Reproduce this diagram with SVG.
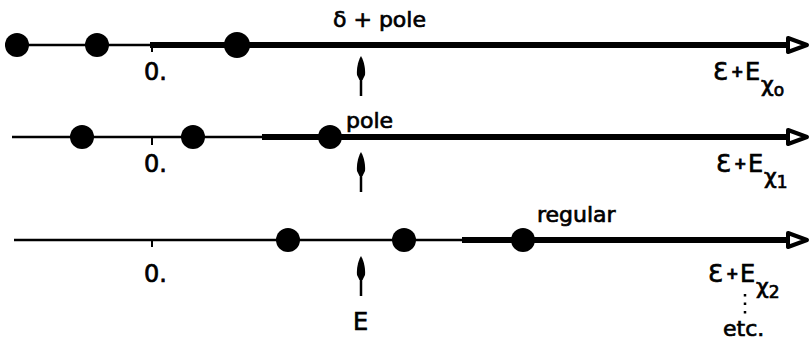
<svg xmlns="http://www.w3.org/2000/svg" width="812" height="343" viewBox="0 0 812 343">
<style>
.thin{stroke:#000;stroke-width:2.5;fill:none}
.thick{stroke:#000;stroke-width:6;fill:none}
.dot{fill:#000}
.t{font-family:"DejaVu Sans","Liberation Sans",sans-serif;fill:#000;font-size:22px;stroke:#000;stroke-width:0.7}
.big{font-family:"DejaVu Sans","Liberation Sans",sans-serif;fill:#000;font-size:24px;stroke:#000;stroke-width:0.7}
.pl{font-size:15px;font-weight:bold}
.chi{font-size:22px}
.si{font-size:17px}
.head{fill:#fff;stroke:#000;stroke-width:4;stroke-linejoin:round}
.tick{stroke:#000;stroke-width:2}
</style>
<defs>
<g id="uparrow">
<path d="M0,0 C-3.5,6 -4.5,14 -4,19 L-1.5,24 L1.5,24 L4,19 C4.5,14 3.5,6 0,0 Z" fill="#000"/>
<line x1="0" y1="22" x2="0" y2="40" stroke="#000" stroke-width="2.5"/>
</g>
</defs>
<g id="connectors">
<line class="thin" x1="5" y1="45" x2="152" y2="45"/>
<line class="thick" x1="150" y1="45" x2="790" y2="45"/>
<line class="tick" x1="152" y1="45" x2="152" y2="52"/>
<polygon class="head" points="788,38 807,45 788,52"/>
<line class="thin" x1="12" y1="137" x2="264" y2="137"/>
<line class="thick" x1="262" y1="137" x2="790" y2="137"/>
<line class="tick" x1="152" y1="137" x2="152" y2="145"/>
<polygon class="head" points="788,130 807,137 788,144"/>
<line class="thin" x1="14" y1="240" x2="464" y2="240"/>
<line class="thick" x1="462" y1="240" x2="790" y2="240"/>
<line class="tick" x1="152" y1="240" x2="152" y2="247"/>
<polygon class="head" points="788,233 807,240 788,247"/>
<use href="#uparrow" x="361" y="56"/>
<use href="#uparrow" x="361" y="152"/>
<use href="#uparrow" x="361" y="256"/>
<line x1="745" y1="294" x2="745" y2="318" stroke="#000" stroke-width="2.5" stroke-dasharray="2.5,6"/>
</g>
<g id="row1-nodes">
<circle id="n1a" class="dot" cx="17" cy="45" r="12"/>
<circle id="n1b" class="dot" cx="97" cy="45" r="12"/>
<circle id="n1c" class="dot" cx="237" cy="45" r="13"/>
</g>
<g id="row2-nodes">
<circle id="n2a" class="dot" cx="82" cy="137" r="12"/>
<circle id="n2b" class="dot" cx="193" cy="137" r="12"/>
<circle id="n2c" class="dot" cx="330" cy="137" r="12"/>
</g>
<g id="row3-nodes">
<circle id="n3a" class="dot" cx="288" cy="240" r="12"/>
<circle id="n3b" class="dot" cx="404" cy="240" r="12"/>
<circle id="n3c" class="dot" cx="523" cy="240" r="12"/>
</g>
<g id="labels">
<text class="big" x="144" y="80">0.</text>
<text class="big" x="144" y="172">0.</text>
<text class="big" x="144" y="282">0.</text>
<text class="t" x="333" y="27">δ + pole</text>
<text class="t" x="346" y="128">pole</text>
<text class="t" x="537" y="222">regular</text>
<text class="big" x="353" y="330">E</text>
<text class="big" x="713" y="80">Ɛ<tspan class="pl" x="731" dy="-3">+</tspan><tspan x="745" dy="3">E</tspan><tspan class="chi" x="761" dy="12">χ</tspan><tspan class="si" dy="4">o</tspan></text>
<text class="big" x="716" y="172">Ɛ<tspan class="pl" x="734" dy="-3">+</tspan><tspan x="748" dy="3">E</tspan><tspan class="chi" x="764" dy="12">χ</tspan><tspan class="si" dy="4">1</tspan></text>
<text class="big" x="708" y="282">Ɛ<tspan class="pl" x="726" dy="-3">+</tspan><tspan x="740" dy="3">E</tspan><tspan class="chi" x="756" dy="12">χ</tspan><tspan class="si" dy="4">2</tspan></text>
<text class="t" x="723" y="336">etc.</text>
</g>
</svg>
